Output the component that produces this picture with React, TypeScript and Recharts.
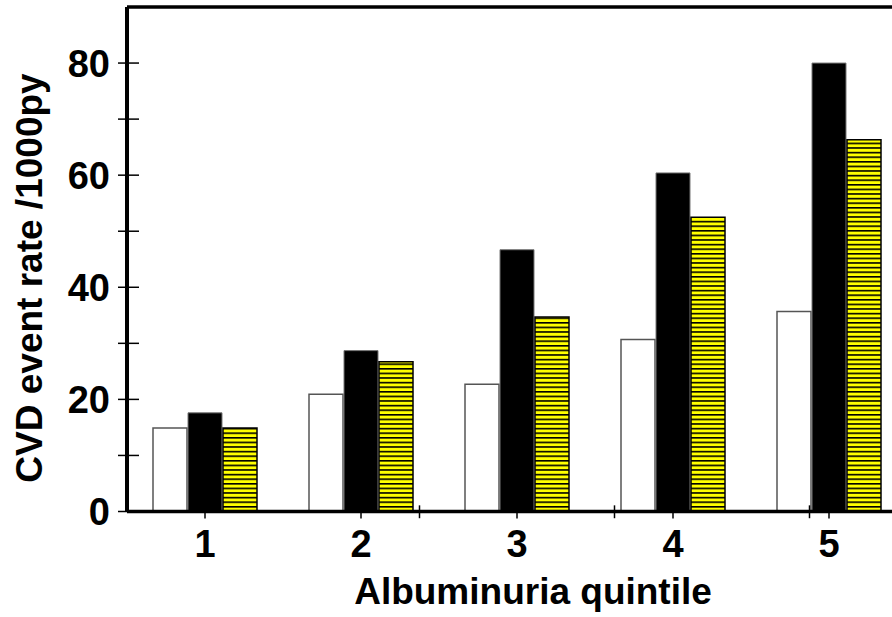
import { BarChart, Bar, XAxis, YAxis, ReferenceLine } from "recharts";

const categories = ["1", "2", "3", "4", "5"];
const whiteValues = [14.9, 20.9, 22.7, 30.7, 35.7];
const blackValues = [17.6, 28.7, 46.7, 60.4, 80];
const yellowValues = [14.9, 26.7, 34.7, 52.5, 66.3];
const yTicks = [0, 10, 20, 30, 40, 50, 60, 70, 80];
const yLabelTicks = [0, 20, 40, 60, 80];
const separators = [1.5, 2.5, 3.5, 4.5];

const data = categories.map((c, i) => ({
  name: c,
  white: whiteValues[i],
  black: blackValues[i],
  yellow: yellowValues[i],
}));

const FONT = "'Liberation Sans', Arial, sans-serif";

const YTick = (props: any) => {
  const { x, y, payload } = props;
  return (
    <g>
      <line x1={x - 9} x2={x + 12} y1={y} y2={y} stroke="#000" strokeWidth={1.5} />
      {yLabelTicks.includes(payload.value) && (
        <text x={x - 17} y={y + 13.5} textAnchor="end" fontSize={38} fontWeight="bold" fontFamily={FONT} fill="#000">
          {payload.value}
        </text>
      )}
    </g>
  );
};

const XTick = (props: any) => {
  const { x, y, payload } = props;
  return (
    <g>
      <line x1={x} x2={x} y1={y} y2={y + 7} stroke="#000" strokeWidth={1.5} />
      <text x={x} y={y + 45} textAnchor="middle" fontSize={38} fontWeight="bold" fontFamily={FONT} fill="#000">
        {payload.value}
      </text>
    </g>
  );
};

const YTitle = () => (
  <text
    x={42}
    y={278}
    transform="rotate(-90, 42, 278)"
    textAnchor="middle"
    fontSize={37}
    fontWeight="bold"
    fontFamily={FONT}
    fill="#000"
  >
    CVD event rate /1000py
  </text>
);

const XTitle = () => (
  <text x={533} y={604} textAnchor="middle" fontSize={37} fontWeight="bold" fontFamily={FONT} fill="#000">
    Albuminuria quintile
  </text>
);

export default function App() {
  return (
    <div style={{ position: "absolute", left: 0, top: 0, width: 892, height: 617, overflow: "hidden", background: "#fff" }}>
      <BarChart
        width={925}
        height={617}
        data={data}
        margin={{ top: 7, right: 18, bottom: 0, left: 0 }}
        barCategoryGap={26}
        barGap={1}
      >
        <defs>
          <pattern id="stripes" patternUnits="userSpaceOnUse" width={8} height={4.6}>
            <rect x={0} y={0} width={8} height={4.6} fill="#ffff00" />
            <rect x={0} y={0} width={8} height={1.6} fill="#000" />
          </pattern>
        </defs>
        <XAxis
          dataKey="name"
          height={105.5}
          axisLine={{ stroke: "#000", strokeWidth: 3.5 }}
          tickLine={false}
          tickSize={0}
          tickMargin={0}
          tick={<XTick />}
          interval={0}
          label={{ content: () => <XTitle /> }}
        />
        <XAxis xAxisId="sep" type="number" domain={[0.5, 5.5]} hide />
        <YAxis
          width={127}
          domain={[0, 90]}
          ticks={yTicks}
          interval={0}
          axisLine={{ stroke: "#000", strokeWidth: 4 }}
          tickLine={false}
          tickSize={0}
          tickMargin={0}
          tick={<YTick />}
          label={{ content: () => <YTitle /> }}
        />
        <ReferenceLine y={90} stroke="#000" strokeWidth={3.5} ifOverflow="visible" />
        {separators.map((s) => (
          <ReferenceLine
            key={s}
            xAxisId="sep"
            segment={[
              { x: s, y: -1.2 },
              { x: s, y: 1.1 },
            ]}
            stroke="#000"
            strokeWidth={1.5}
            ifOverflow="visible"
          />
        ))}
        <Bar dataKey="white" fill="#fff" stroke="#555" strokeWidth={1.5} isAnimationActive={false} />
        <Bar dataKey="black" fill="#000" stroke="#777" strokeWidth={1} isAnimationActive={false} />
        <Bar dataKey="yellow" fill="url(#stripes)" stroke="#000" strokeWidth={1.5} isAnimationActive={false} />
      </BarChart>
    </div>
  );
}
